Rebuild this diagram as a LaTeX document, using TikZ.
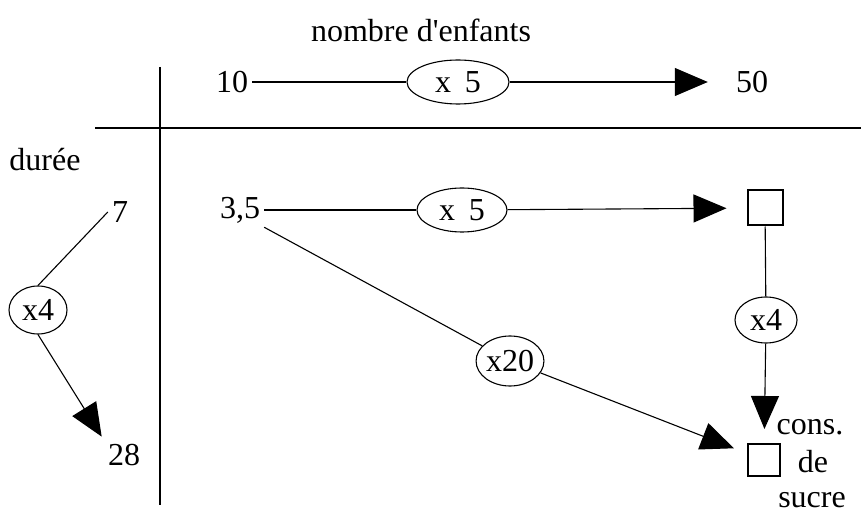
\documentclass[tikz,border=0pt]{standalone}
\usepackage{fontspec}
\setmainfont{Liberation Serif}
\usetikzlibrary{shapes.geometric,arrows.meta}
\tikzset{
  txt/.style={inner sep=4pt, font=\fontsize{32}{38}\selectfont},
  oval/.style={ellipse, draw, line width=1.1pt, inner sep=0pt, font=\fontsize{32}{38}\selectfont},
  box/.style={draw, line width=2pt, minimum size=35pt, inner sep=0pt},
  link/.style={line width=1.1pt},
  arr/.style={line width=1.1pt, -{Triangle[length=33pt,width=28pt]}},
  axis/.style={line width=2.6pt}
}
\newcommand{\gap}{\hspace{14pt}}
\begin{document}
\begin{tikzpicture}[x=1pt,y=-1pt]
\useasboundingbox (0,0) rectangle (861,518);

% table axes
\draw[axis] (160,67) -- (160,505);
\draw[axis] (95,128) -- (861,128);

% headings
\node[txt] (enf) at (421,30) {nombre d\textquotesingle enfants};
\node[txt] (dur) at (45,160) {durée};

% first row: number of children
\node[txt] (n10) at (232,82) {10};
\node[oval, minimum width=102pt, minimum height=44pt] (m1) at (458,82) {x\gap5};
\node[txt] (n50) at (752,82) {50};
\draw[link] (n10) -- (m1);
\draw[arr, shorten >=24pt] (m1) -- (n50);

% left column: duration
\node[txt] (n7) at (120,212) {7};
\node[oval, minimum width=58pt, minimum height=48pt] (m5) at (38,310) {x4};
\node[txt] (n28) at (124,455) {28};
\draw[link] (n7.west) -- (m5.north);
\draw[arr, shorten >=4pt] (m5.south) -- (n28.north west);

% main table
\node[txt] (n35) at (240,210) {3,5};
\node[oval, minimum width=90pt, minimum height=44pt] (m2) at (462,210) {x\gap5};
\node[box] (s1) at (765,208) {};
\draw[link] (n35) -- (m2);
\draw[arr, shorten >=20pt] (m2) -- (s1);

\node[oval, minimum width=62pt, minimum height=46pt] (m3) at (766,320) {x4};
\node[box, minimum size=32pt] (s2) at (764,460) {};
\draw[link] (s1) -- (m3);
\draw[arr, shorten >=14pt] (m3) -- (s2);

\node[oval, minimum width=58pt, minimum height=50pt] (m4) at (510,361) {x20};
\draw[link] (n35.south east) -- (m4);
\draw[arr, shorten >=14pt] (m4) -- (s2);

% label of the unknown
\node[txt] (l1) at (810,427) {cons.};
\node[txt] (l2) at (813,462) {de};
\node[txt] (l3) at (812,500) {sucre};
\end{tikzpicture}
\end{document}
